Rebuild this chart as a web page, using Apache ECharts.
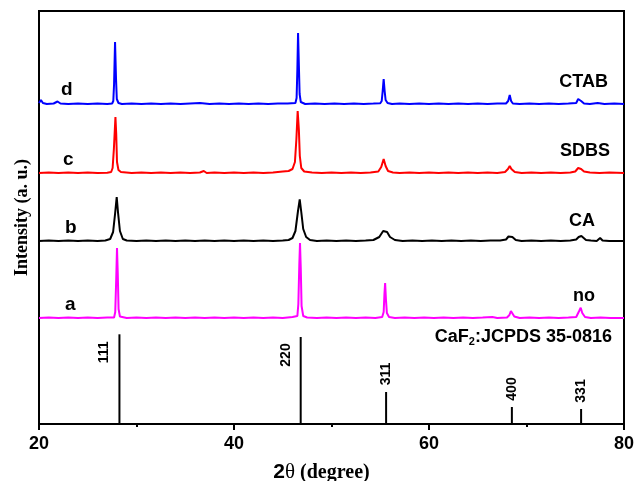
<!DOCTYPE html>
<html>
<head>
<meta charset="utf-8">
<script src="https://cdn.jsdelivr.net/npm/echarts@6/dist/echarts.min.js"></script>
<style>html,body{margin:0;padding:0;background:#fff}#c{width:634px;height:481px}</style>
</head>
<body>
<div id="c"></div>
<script>
// 2θ (degree) vs intensity (arbitrary units, traces stacked with their own offsets)
const xrdD = [[20.0,321],[20.2,324],[20.4,321],[20.8,320],[21.5,320.5],[21.9,322.5],[22.2,320.5],[23,320],[24,320.6],[25,320],[26,320.4],[27,320],[27.5,320.5],[27.62,323],[27.7,340],[27.8,382],[27.9,345],[27.98,325],[28.15,321],[28.5,320],[29.5,320.5],[30.5,320],[31.5,320.4],[32.5,320],[33.5,320.5],[34.5,320],[35.5,320.6],[36.5,321],[37.5,320],[38.5,320.4],[39.5,320],[40.5,320.5],[41.5,320],[42.5,320.6],[43.5,320],[44.5,320.4],[45.5,320.5],[46.3,321],[46.42,326],[46.5,355],[46.57,391],[46.65,360],[46.73,330],[46.85,322],[47.3,320],[48.3,320.6],[49.3,320],[50.3,320.5],[51.3,320],[52.3,320.6],[53.3,320],[54.3,320.4],[55,320.8],[55.15,323],[55.25,333],[55.35,345],[55.45,333],[55.55,324],[55.75,321],[56.2,320],[57,320.5],[58,320],[59,320.6],[60,320],[61,320.5],[62,320],[63,320.4],[64,320],[65,320.6],[66,320],[67,320.4],[67.9,320.5],[68.12,323],[68.28,329],[68.42,323],[68.6,320.5],[69.3,320],[70.3,320.5],[71.3,320],[72.3,320.6],[73.3,320],[74.3,320.4],[75.1,321],[75.3,325],[75.42,327],[75.6,323],[75.9,320.5],[76.5,320],[77.3,321],[78,320],[79,320.5],[80,320]];
const xrdC = [[20,251],[21,251.5],[22,251],[23,251.4],[24,251],[25,251.5],[26,251],[27,251.3],[27.4,252],[27.55,256],[27.68,275],[27.84,307],[27.92,290],[28.0,262],[28.15,254],[28.4,252],[29.5,251],[30.5,251.5],[31.5,251],[32.5,251.4],[33.5,251],[34.5,251.5],[35.5,251],[36.5,251.5],[36.9,253],[37.2,251],[38,251.4],[39,251],[40,251.5],[41,251],[42,251.4],[43,251],[44,251.5],[45,252.5],[45.6,253],[46.0,255],[46.25,262],[46.4,285],[46.53,313],[46.65,295],[46.75,268],[46.9,256],[47.2,252.5],[48,251.5],[49,251],[50,251.5],[51,251],[52,251.4],[53,251],[54,251.5],[54.8,252.5],[55.1,257],[55.35,265],[55.55,258],[55.8,253],[56.3,251.5],[57,251],[58,251.4],[59,251],[60,251.5],[61,251],[62,251.4],[63,251],[64,251.5],[65,251],[66,251.5],[67,251],[67.8,252],[68.1,255],[68.28,258],[68.45,255],[68.8,252],[69.5,251],[70.5,251.5],[71.5,251],[72.5,251.4],[73.5,251],[74.5,251.5],[75.0,252.5],[75.3,256],[75.42,257],[75.6,255],[75.9,252.5],[76.5,251.5],[77.5,251],[78.5,251.4],[80,251]];
const xrdB = [[20,183],[21,183.5],[22,183],[23,183.5],[24,183],[25,183.4],[26,183],[26.8,183.5],[27.3,185],[27.6,192],[27.8,210],[27.97,227],[28.1,212],[28.3,193],[28.6,185],[29,183.5],[30,183],[31,183.5],[32,183],[33,183.4],[34,183],[35,183.5],[36,183],[37,183.4],[38,183],[39,183.5],[40,183],[41,183.5],[42,183],[43,183.4],[44,183],[45,183.6],[45.6,184],[46.0,186],[46.3,193],[46.55,212],[46.74,224.7],[46.9,212],[47.1,195],[47.4,187],[47.8,184],[48.5,183],[49.5,183.5],[50.5,183],[51.5,183.4],[52.5,183],[53.5,183.5],[54.3,184],[54.9,187],[55.3,193],[55.5,195],[55.7,192],[56.0,187],[56.5,184],[57.3,183],[58.3,183.5],[59.3,183],[60.3,183.5],[61.3,183],[62.3,183.4],[63.3,183],[64.3,183.5],[65.3,183],[66.3,183.4],[67.3,183.5],[67.9,184.5],[68.15,187.5],[68.35,189],[68.55,187],[68.9,184],[69.5,183],[70.5,183.5],[71.5,183],[72.5,183.4],[73.5,183],[74.5,183.5],[75.1,184.5],[75.35,187],[75.5,186],[75.63,188],[75.8,187],[76.1,184],[76.6,183.5],[77.2,183],[77.55,186],[77.8,183.5],[78.5,183],[80,183]];
const xrdA = [[20,106],[21,106.5],[22,106],[23,106.4],[24,106],[25,106.5],[26,106],[27,106.4],[27.7,106.5],[27.82,112],[27.92,145],[28.0,176],[28.08,150],[28.16,115],[28.3,107.5],[28.5,106],[29,106],[30,106.5],[31,106],[32,106.4],[33,106],[34,106.5],[35,106],[36,106.4],[37,106],[38,106.5],[39,106],[40,106.4],[41,106],[42,106.5],[43,106],[44,106.4],[45,106],[46,107],[46.5,108],[46.6,120],[46.7,160],[46.77,181],[46.85,155],[46.93,118],[47.1,108],[47.5,106.5],[48.5,106],[49.5,106.4],[50.5,106],[51.5,106.5],[52.5,106],[53.5,106.4],[54.5,106],[55.2,107],[55.35,112],[55.43,130],[55.5,141],[55.58,125],[55.68,111],[55.9,107],[56.5,106],[57.5,106.4],[58.5,106],[59.5,106.5],[60.5,106],[61.5,106.4],[62.5,106],[63.5,106.5],[64.5,106],[65.5,106.4],[66.5,107],[67,106],[68,106.5],[68.25,109],[68.4,113],[68.45,114],[68.55,111],[68.75,107.5],[69.3,106],[70.3,106.5],[71.3,106],[72.3,106.4],[73.3,106],[74.3,106.5],[75.1,107],[75.4,113],[75.56,116.3],[75.72,111],[76,107],[76.6,106],[77.6,106.4],[78.6,106],[80,106]];
// CaF2 JCPDS 35-0816 reference
const refPos = [28.25, 46.84, 55.6, 68.5, 75.6];
const refInt = [89.7, 87, 32, 17, 15];
const refHkl = ['111', '220', '311', '400', '331'];
const xTicks = [20, 40, 60, 80];

const chart = echarts.init(document.getElementById('c'));
const sans = '"Liberation Sans", Arial, sans-serif';
const serif = '"Liberation Serif", "Times New Roman", serif';
function lineSeries(data, color) {
  return { type: 'line', data: data, showSymbol: false, symbol: 'none', animation: false,
    lineStyle: { color: color, width: 2 }, z: 3 };
}
const refData = refPos.map((p, i) => [p, refInt[i], refHkl[i]]);
chart.setOption({
  animation: false,
  grid: { left: 39, right: 10, top: 11, bottom: 57, show: true, borderColor: '#000', borderWidth: 2,
    containLabel: false, outerBoundsMode: 'none' },
  xAxis: {
    type: 'value', min: xTicks[0], max: xTicks[xTicks.length - 1], interval: 20,
    axisLine: { lineStyle: { color: '#000', width: 2 } },
    axisTick: { show: true, length: 6, lineStyle: { color: '#000', width: 2 } },
    minorTick: { show: true, splitNumber: 2, length: 3, lineStyle: { color: '#000', width: 2 } },
    splitLine: { show: false },
    axisLabel: { color: '#000', fontSize: 18, fontWeight: 'bold', fontFamily: sans, margin: 11 },
    name: '{a|2}{b|θ}{c| (degree)}', nameLocation: 'middle', nameGap: 38,
    nameTextStyle: { padding: [0, 20, 0, 0], rich: {
      a: { fontFamily: sans, fontWeight: 'bold', fontSize: 21, color: '#000' },
      b: { fontFamily: serif, fontSize: 21, color: '#000' },
      c: { fontFamily: serif, fontWeight: 'bold', fontSize: 20, color: '#000' } } }
  },
  yAxis: {
    type: 'value', min: 0, max: 413,
    axisLine: { show: true, lineStyle: { color: '#000', width: 2 } },
    axisTick: { show: false }, axisLabel: { show: false }, splitLine: { show: false },
    name: 'Intensity (a. u.)', nameLocation: 'middle', nameGap: 8,
    nameTextStyle: { fontFamily: serif, fontWeight: 'bold', fontSize: 18, color: '#000' }
  },
  series: [
    lineSeries(xrdA, '#ff00ff'),
    lineSeries(xrdB, '#000000'),
    lineSeries(xrdC, '#ff0000'),
    lineSeries(xrdD, '#0000ff'),
    {
      type: 'custom', data: refData, z: 4,
      renderItem: function (params, api) {
        const x = api.value(0), h = api.value(1);
        const p0 = api.coord([x, 0]), p1 = api.coord([x, h]);
        const tall = h > 50;
        return { type: 'group', children: [
          { type: 'line', shape: { x1: p0[0], y1: p0[1], x2: p1[0], y2: p1[1] },
            style: { stroke: '#000', lineWidth: 2 } },
          { type: 'text', x: tall ? p1[0] - 15 : p1[0], y: tall ? p1[1] + 18 : p1[1] - 18,
            rotation: Math.PI / 2,
            style: { text: refHkl[params.dataIndex], fill: '#000', fontFamily: sans, fontWeight: 'bold',
              fontSize: 14, align: 'center', verticalAlign: 'middle' } }
        ] };
      }
    }
  ],
  graphic: [
    { type: 'text', left: 61, top: 80, style: { text: 'd', font: 'bold 19px ' + sans, fill: '#000' } },
    { type: 'text', left: 63, top: 150, style: { text: 'c', font: 'bold 19px ' + sans, fill: '#000' } },
    { type: 'text', left: 65, top: 218, style: { text: 'b', font: 'bold 19px ' + sans, fill: '#000' } },
    { type: 'text', left: 65, top: 295, style: { text: 'a', font: 'bold 19px ' + sans, fill: '#000' } },
    { type: 'text', right: 26, top: 73, style: { text: 'CTAB', font: 'bold 18px ' + sans, fill: '#000' } },
    { type: 'text', right: 24, top: 142, style: { text: 'SDBS', font: 'bold 18px ' + sans, fill: '#000' } },
    { type: 'text', right: 39, top: 212, style: { text: 'CA', font: 'bold 18px ' + sans, fill: '#000' } },
    { type: 'text', right: 39, top: 287, style: { text: 'no', font: 'bold 18px ' + sans, fill: '#000' } },
    { type: 'text', right: 22, top: 328, style: {
      text: '{m|CaF}{s|2}{m|:JCPDS 35-0816}',
      rich: {
        m: { fontFamily: sans, fontWeight: 'bold', fontSize: 18, fill: '#000', lineHeight: 22 },
        s: { fontFamily: sans, fontWeight: 'bold', fontSize: 11, fill: '#000', padding: [10, 0, 0, 0] }
      } } }
  ]
});
</script>
</body>
</html>
